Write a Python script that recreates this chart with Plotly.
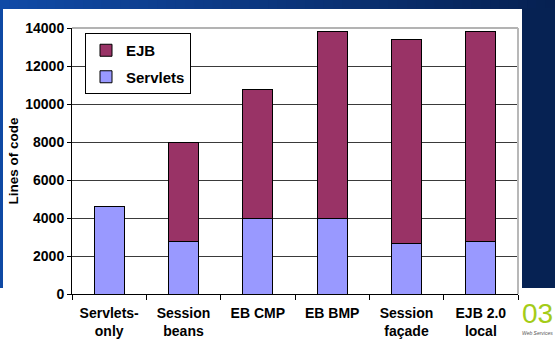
import plotly.graph_objects as go

# Lines of code per architecture, split by tier
categories = ["Servlets-<br>only", "Session<br>beans", "EB CMP", "EB BMP", "Session<br>façade", "EJB 2.0<br>local"]
servlets_loc = [4600, 2750, 4000, 4000, 2650, 2750]
ejb_loc = [0, 5250, 6750, 9800, 10750, 11050]
y_ticks = [0, 2000, 4000, 6000, 8000, 10000, 12000, 14000]
y_tick_text = [str(v) for v in y_ticks]

W, H = 555, 341
ML, MR, MT, MB = 72, 37, 28, 47
PW, PH = W - ML - MR, H - MT - MB


def px(x):
    return (x - ML) / PW


def py(y):
    return (H - MB - y) / PH


fig = go.Figure()
fig.add_trace(go.Bar(
    name="Servlets", x=categories, y=servlets_loc,
    marker=dict(color="#9999FF", line=dict(color="#000000", width=1)),
    legendgroup="s", legendrank=2,
))
fig.add_trace(go.Bar(
    name="EJB", x=categories, y=ejb_loc,
    marker=dict(color="#993366", line=dict(color="#000000", width=1)),
    legendgroup="e", legendrank=1,
))

shapes = []
# slide header band, blue fading to navy
c0 = (16, 74, 166)
c1 = (6, 33, 82)
n = 60
for i in range(n):
    t = i / (n - 1)
    col = tuple(round(a + (b - a) * t) for a, b in zip(c0, c1))
    shapes.append(dict(
        type="rect", xref="paper", yref="paper", layer="below",
        x0=px(W * i / n), x1=px(W * (i + 1) / n + 1), y0=py(9), y1=py(0),
        fillcolor="rgb(%d,%d,%d)" % col, line=dict(width=0),
    ))
# slide side edges
shapes.append(dict(type="rect", xref="paper", yref="paper", layer="below",
                   x0=px(0), x1=px(3), y0=py(288), y1=py(9),
                   fillcolor="#0f49a4", line=dict(width=0)))
shapes.append(dict(type="rect", xref="paper", yref="paper", layer="below",
                   x0=px(522), x1=px(W), y0=py(288), y1=py(8),
                   fillcolor="#062253", line=dict(width=0)))
# plot area frame (top and right)
shapes.append(dict(type="line", xref="paper", yref="paper", layer="above",
                   x0=0, x1=1, y0=1, y1=1, line=dict(color="#9a9a9a", width=1.5)))
shapes.append(dict(type="line", xref="paper", yref="paper", layer="above",
                   x0=1, x1=1, y0=0, y1=1, line=dict(color="#b8b8b8", width=2)))

fig.update_layout(
    width=W, height=H,
    margin=dict(l=ML, r=MR, t=MT, b=MB, pad=0, autoexpand=False),
    paper_bgcolor="#ffffff", plot_bgcolor="#ffffff",
    barmode="stack", bargap=0.6,
    font=dict(family="Liberation Sans, Arial, sans-serif", color="#000000"),
    shapes=shapes,
    showlegend=True,
    legend=dict(
        x=px(85), y=py(33), xanchor="left", yanchor="top",
        bgcolor="#ffffff", bordercolor="#000000", borderwidth=1,
        font=dict(size=15, family="Liberation Sans, Arial, sans-serif", color="#000000", weight="bold"),
        traceorder="grouped", tracegroupgap=4, itemwidth=30,
    ),
    xaxis=dict(
        showgrid=False, showline=True, linecolor="#000000", linewidth=1,
        ticks="outside", ticklen=5, tickcolor="#000000", tickson="boundaries",
        tickfont=dict(size=14, weight="bold"), automargin=False,
        ticklabelstandoff=6,
    ),
    yaxis=dict(
        range=[0, 14000], tickvals=y_ticks, ticktext=y_tick_text,
        showgrid=True, gridcolor="#3a3a3a", gridwidth=1,
        showline=True, linecolor="#000000", linewidth=1,
        ticks="outside", ticklen=4, tickcolor="#000000",
        tickfont=dict(size=14, weight="bold"),
        title=dict(text="Lines of code", font=dict(size=13.5, weight="bold"), standoff=3),
        zeroline=False, automargin=False,
    ),
    annotations=[
        dict(text="03", xref="paper", yref="paper", x=px(537), y=py(313),
             xanchor="center", yanchor="middle", showarrow=False,
             font=dict(size=28, color="#a4cc18", family="Liberation Sans Narrow, Liberation Sans, sans-serif")),
        dict(text="<i>Web Services</i>", xref="paper", yref="paper", x=px(537), y=py(333),
             xanchor="center", yanchor="middle", showarrow=False,
             font=dict(size=5, color="#555555")),
    ],
)

fig.write_html("out.html")
